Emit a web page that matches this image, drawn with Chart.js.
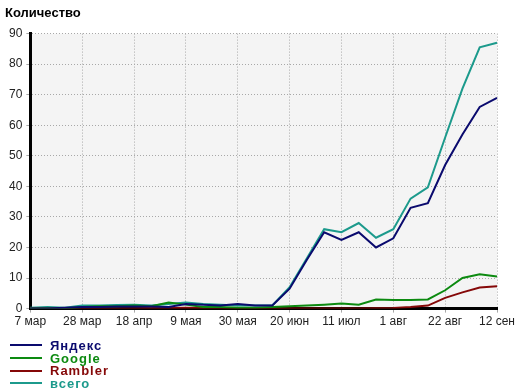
<!DOCTYPE html>
<html>
<head>
<meta charset="utf-8">
<script src="https://cdn.jsdelivr.net/npm/chart.js@4/dist/chart.umd.min.js"></script>
<style>
  body { margin: 0; background: #fff; }
  #wrap { position: relative; width: 520px; height: 390px; }
  #legend { position: absolute; left: 10px; top: 339px; font: bold 13px Arial, "Liberation Sans", sans-serif; letter-spacing: 1px; }
  .row { display: flex; align-items: center; height: 12.7px; }
  .row span.ln { display: inline-block; width: 32px; height: 2px; margin-right: 8px; }
</style>
</head>
<body>
<div id="wrap">
  <canvas id="myChart" width="520" height="390"></canvas>
  <div id="legend"></div>
</div>
<script>
const weeks = ['7 мар', '14 мар', '21 мар', '28 мар', '4 апр', '11 апр', '18 апр', '25 апр', '2 мая', '9 мая',
    '16 мая', '23 мая', '30 мая', '6 июн', '13 июн', '20 июн', '27 июн', '4 июл', '11 июл', '18 июл',
    '25 июл', '1 авг', '8 авг', '15 авг', '22 авг', '29 авг', '5 сен', '12 сен'];
const yandex = [0, 0, 0.3, 0.5, 0.5, 0.7, 0.7, 0.7, 0.5, 1.5, 1.3, 1, 1.5, 1, 1, 6.5, 16, 25, 22.5, 25, 20, 23, 33, 34.5, 47, 57, 66, 69];
const google = [0, 0, 0, 0.5, 0.8, 0.8, 1, 0.8, 2, 1.3, 0.5, 0.5, 0.3, 0.3, 0.5, 0.8, 1, 1.3, 1.7, 1.3, 3, 2.8, 2.8, 3, 6, 10, 11.2, 10.5];
const rambler = [0, 0, 0, 0, 0, 0, 0, 0.2, 0.2, 0.3, 0.2, 0.2, 0.2, 0, 0, 0, 0, 0, 0, 0, 0.1, 0.2, 0.5, 1, 3.5, 5.3, 6.9, 7.3];
const total = [0.3, 0.5, 0.3, 1, 1, 1.2, 1.3, 1, 1.5, 2, 1.5, 1.3, 1, 1, 1, 7, 16.5, 26, 25, 28, 23.2, 26, 36, 39.7, 56, 72, 85.5, 87];

const series = [
    { name: 'Яндекс', data: yandex, color: '#0a0a6e' },
    { name: 'Google', data: google, color: '#0c8a10' },
    { name: 'Rambler', data: rambler, color: '#850808' },
    { name: 'всего', data: total, color: '#1c9a8c' }
];

// legend as html rows
let legendHtml = '';
for (let s of series) {
    legendHtml += `<div class="row" style="color:${s.color}"><span class="ln" style="background:${s.color}"></span>${s.name}</div>`;
}
document.getElementById('legend').innerHTML = legendHtml;

const plotBg = {
    id: 'plotBg',
    beforeDraw(chart) {
        const a = chart.chartArea;
        chart.ctx.save();
        chart.ctx.fillStyle = '#f4f4f4';
        chart.ctx.fillRect(a.left, a.top, a.right - a.left, a.bottom - a.top);
        chart.ctx.restore();
    }
};

const font = { family: 'Arial, "Liberation Sans", sans-serif', size: 12 };

new Chart(document.getElementById('myChart'), {
    type: 'line',
    data: {
        labels: weeks,
        datasets: series.map(s => ({
            label: s.name,
            data: s.data,
            borderColor: s.color,
            backgroundColor: s.color,
            borderWidth: 2,
            pointRadius: 0,
            tension: 0
        }))
    },
    options: {
        responsive: false,
        animation: false,
        layout: { padding: { left: 5, right: 23, top: 0, bottom: 59 } },
        plugins: {
            legend: { display: false },
            tooltip: { enabled: false },
            title: {
                display: true,
                text: 'Количество',
                align: 'start',
                color: '#000',
                font: { family: 'Arial, "Liberation Sans", sans-serif', size: 13, weight: 'bold' },
                padding: { top: 6, bottom: 12 }
            }
        },
        scales: {
            x: {
                ticks: {
                    autoSkip: false,
                    maxRotation: 0,
                    color: '#222',
                    font: font,
                    padding: 2,
                    callback: (v, i) => i % 3 === 0 ? weeks[i] : ''
                },
                grid: {
                    color: ctx => ctx.index % 3 === 0 ? '#a8a8a8' : 'rgba(0,0,0,0)',
                    tickLength: 4
                },
                border: { color: '#000', width: 3, dash: [1, 2] }
            },
            y: {
                min: 0,
                max: 90,
                ticks: { stepSize: 10, color: '#222', font: font, padding: 4 },
                grid: { color: '#a8a8a8', tickLength: 4 },
                border: { color: '#000', width: 3, dash: [1, 2] }
            }
        }
    },
    plugins: [plotBg]
});
</script>
</body>
</html>
